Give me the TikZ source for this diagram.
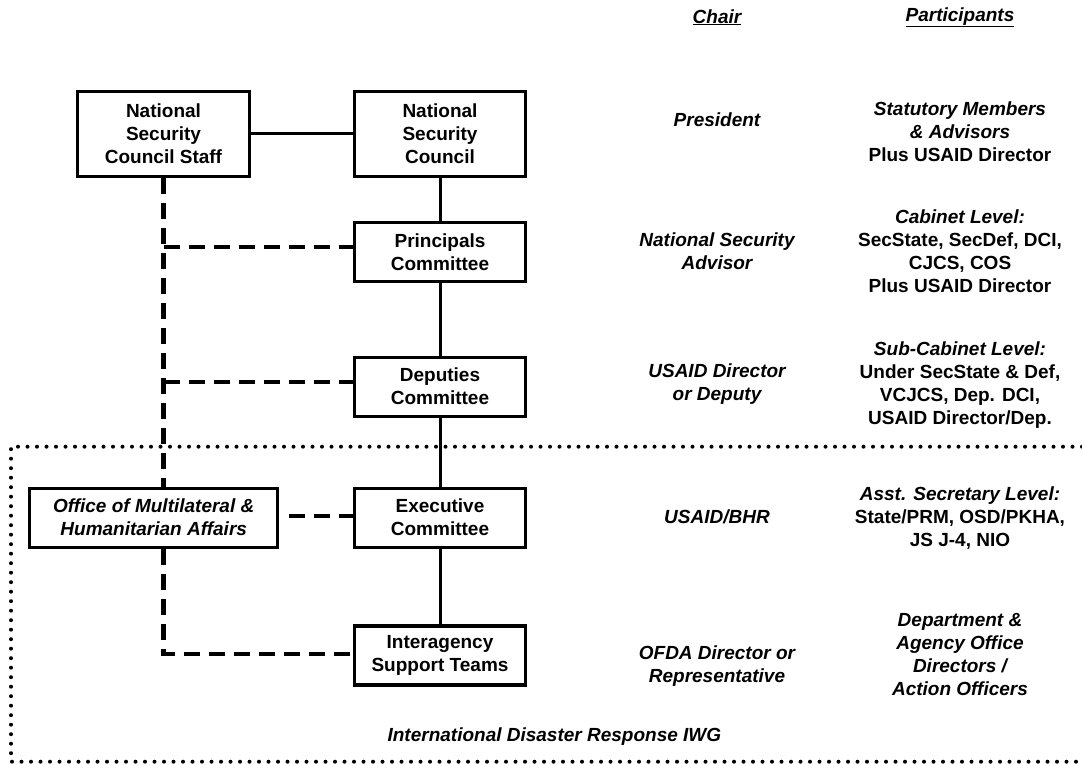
\documentclass[tikz,border=0pt]{standalone}
\usepackage{fontspec}
\setmainfont{Liberation Sans}

\begin{document}
\begin{tikzpicture}[x=1pt,y=-1pt,
        font=\fontsize{19}{23}\selectfont\bfseries,
        slant/.style={font=\fontsize{19}{23}\selectfont\bfseries\itshape},
        board/.style={draw,line width=3.4pt,fill=white,align=center,inner sep=0pt,
            minimum width=171.5pt,minimum height=59pt},
        tallboard/.style={board,minimum height=84.7pt},
        note/.style={align=center,inner sep=0pt},
        solidline/.style={line width=3pt},
        dashline/.style={line width=4.2pt,dash pattern=on 16pt off 9pt},
        dotline/.style={line width=4pt,line cap=round,dash pattern=on 0pt off 9.5pt}]
    \useasboundingbox (0,0) rectangle (1082,765);
    % frame of the IWG, open to the right
    \draw[dotline] (1082,446.7) -- (11,446.7) -- (11,761.7) -- (1082,761.7);

    % boxes
    \node[tallboard] (nscstaff) at (163.5,134) {National\\Security\\Council Staff};
    \node[tallboard] (nsc) at (440,134) {National\\Security\\Council};
    \node[board] (pc) at (440,252) {Principals\\Committee};
    \node[board] (dc) at (440,386.7) {Deputies\\Committee};
    \node[board] (ec) at (440,517.7) {Executive\\Committee};
    \node[board] (ist) at (440,655.4) {Interagency\\Support Teams};
    \node[board,slant,minimum width=248pt] (omha) at (153.7,517.7)
        {Office of Multilateral \&\\Humanitarian Affairs};

    % chain of command
    \draw[solidline] (nscstaff) -- (nsc);
    \draw[solidline] (nsc) -- (pc) -- (dc) -- (ec) -- (ist);
    % staff support lines
    \draw[dashline] (nscstaff.south) -- (nscstaff.south |- omha.north);
    \draw[dashline] (nscstaff.south |- omha.south) |- ([yshift=1.5pt]ist.west);
    \draw[dashline] (nscstaff.south |- pc) ++(0,-5) -- ([yshift=5pt]pc.west);
    \draw[dashline] (nscstaff.south |- dc) ++(0,-5) -- ([yshift=5pt]dc.west);
    \draw[dashline] ([xshift=10pt,yshift=1.5pt]omha.east) -- ([yshift=1.5pt]ec.west);

    % column heads
    \node[note,slant] (chairhead) at (717,17.3) {\underline{Chair}};
    \node[note,slant] (parthead) at (960,17.3) {\underline{Participants}};

    % chairs
    \node[note,slant] (chnsc) at (717,120) {President};
    \node[note,slant] (chpc) at (717,251.7) {National Security\\Advisor};
    \node[note,slant] (chdc) at (717,384.5) {USAID Director\\or Deputy};
    \node[note,slant] (chec) at (717,516.7) {USAID/BHR};
    \node[note,slant] (chist) at (717,666.5) {OFDA Director or\\Representative};

    % participants
    \node[note] (ptnsc) at (960,131.7)
        {\textit{Statutory Members}\\\textit{\& Advisors}\\Plus USAID Director};
    \node[note] (ptpc) at (960,251.7)
        {\textit{Cabinet Level:}\\SecState, SecDef, DCI,\\CJCS, COS\\Plus USAID Director};
    \node[note] (ptdc) at (960,385.5)
        {\textit{Sub-Cabinet Level:}\\Under SecState \& Def,\\VCJCS, Dep. DCI,\\USAID Director/Dep.};
    \node[note] (ptec) at (960,517.7)
        {\textit{Asst. Secretary Level:}\\State/PRM, OSD/PKHA,\\JS J-4, NIO};
    \node[note,slant] (ptist) at (960,655)
        {Department \&\\Agency Office\\Directors /\\Action Officers};

    \node[note,slant] (iwg) at (554.4,736.7) {International Disaster Response IWG};
\end{tikzpicture}
\end{document}
